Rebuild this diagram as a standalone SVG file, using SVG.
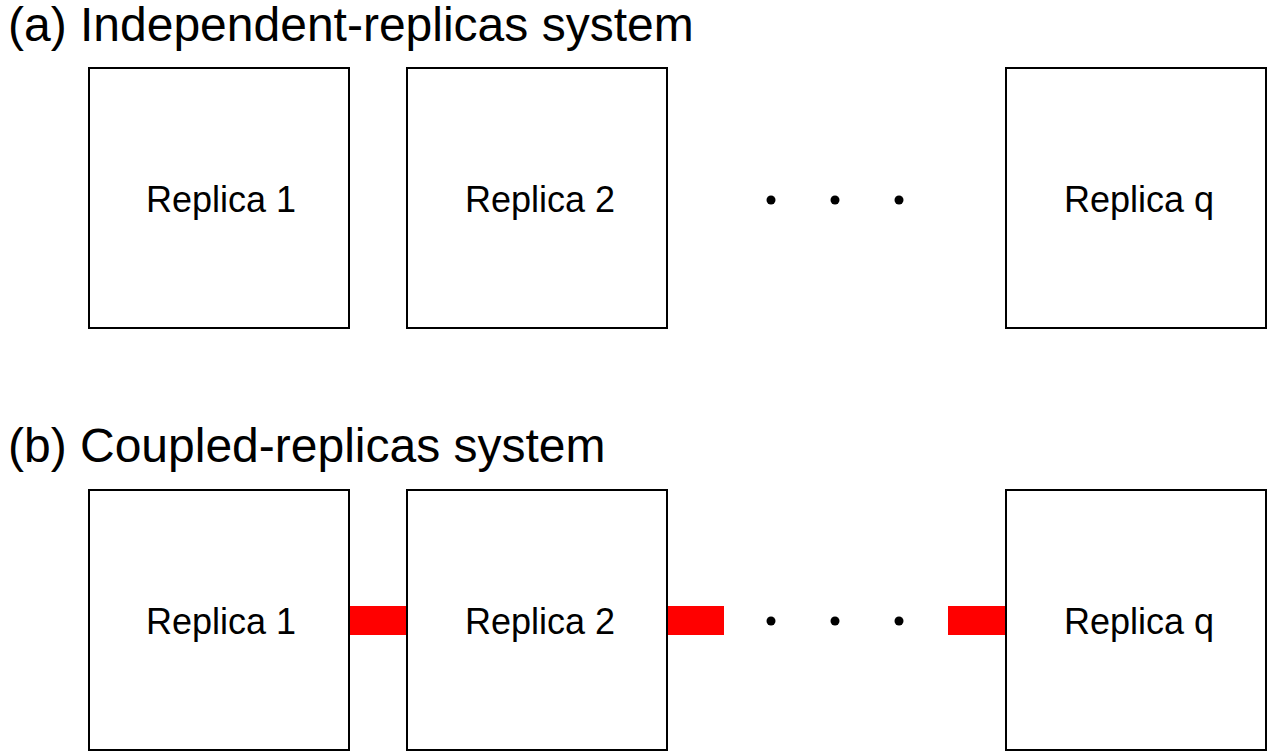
<svg xmlns="http://www.w3.org/2000/svg" width="1278" height="756" viewBox="0 0 1278 756">
<style>
.box{fill:#fff;stroke:#000;stroke-width:2}
.lbl{font-family:"Liberation Sans",Arial,sans-serif;font-size:36px;fill:#000;text-anchor:middle}
.title{font-family:"Liberation Sans",Arial,sans-serif;font-size:48px;fill:#000}
.dot{fill:#000}
.link{fill:#ff0000}
</style>
<rect width="1278" height="756" fill="#fff"/>
<text class="title" x="8" y="41">(a) Independent-replicas system</text>
<text class="title" x="8" y="462">(b) Coupled-replicas system</text>
<g id="a-replica1"><rect class="box" x="89" y="68" width="260" height="260"/><text class="lbl" x="221" y="212">Replica 1</text></g>
<g id="a-replica2"><rect class="box" x="407" y="68" width="260" height="260"/><text class="lbl" x="540" y="212">Replica 2</text></g>
<g id="a-dots"><circle class="dot" cx="771" cy="200" r="4.5"/><circle class="dot" cx="835" cy="200" r="4.5"/><circle class="dot" cx="899" cy="200" r="4.5"/></g>
<g id="a-replicaq"><rect class="box" x="1006" y="68" width="260" height="260"/><text class="lbl" x="1139" y="212">Replica q</text></g>
<g id="connectors">
<rect class="link" x="349" y="606" width="58" height="29"/>
<rect class="link" x="667" y="606" width="57" height="29"/>
<rect class="link" x="948" y="606" width="58" height="29"/>
</g>
<g id="b-replica1"><rect class="box" x="89" y="490" width="260" height="260"/><text class="lbl" x="221" y="634">Replica 1</text></g>
<g id="b-replica2"><rect class="box" x="407" y="490" width="260" height="260"/><text class="lbl" x="540" y="634">Replica 2</text></g>
<g id="b-dots"><circle class="dot" cx="771" cy="621" r="4.5"/><circle class="dot" cx="835" cy="621" r="4.5"/><circle class="dot" cx="899" cy="621" r="4.5"/></g>
<g id="b-replicaq"><rect class="box" x="1006" y="490" width="260" height="260"/><text class="lbl" x="1139" y="634">Replica q</text></g>
</svg>
